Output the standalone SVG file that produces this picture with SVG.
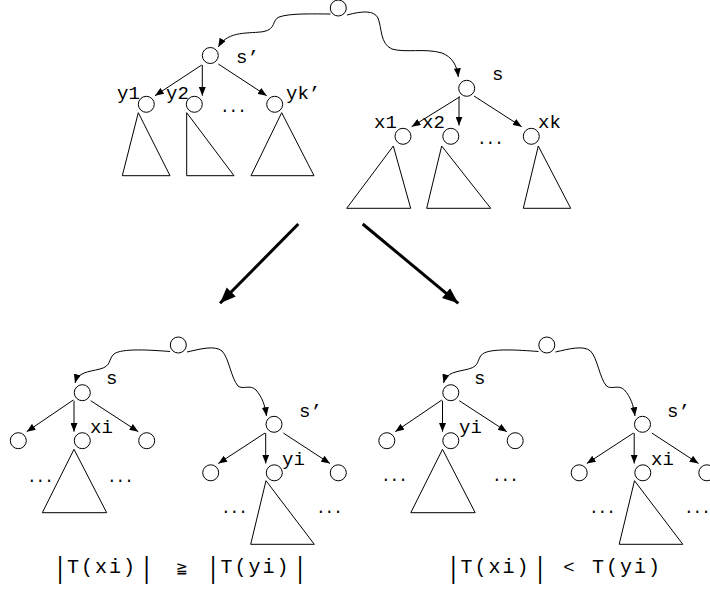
<svg xmlns="http://www.w3.org/2000/svg" width="710" height="590" viewBox="0 0 710 590">
<style>
.n{fill:#fff;stroke:#000;stroke-width:1}
.t{fill:none;stroke:#000;stroke-width:1;stroke-linejoin:miter}
.e{fill:none;stroke:#000;stroke-width:1}
.b{fill:none;stroke:#000;stroke-width:3}
.l{font-family:"Liberation Mono","Courier New",monospace;font-size:19px;fill:#000}
.d{font-family:"Liberation Mono","Courier New",monospace;font-size:16px;letter-spacing:-1px;fill:#000}
.f{font-family:"Liberation Mono","Courier New",monospace;font-size:20px;letter-spacing:2px;fill:#000}
.bar{font-family:"Liberation Mono","Courier New",monospace;font-size:22px;fill:#000}
</style>
<defs>
<marker id="ah" viewBox="0 0 10 8" refX="10" refY="4" markerWidth="9" markerHeight="7" markerUnits="userSpaceOnUse" orient="auto"><path d="M0,0 L10,4 L0,8 z" fill="#000"/></marker>
<marker id="bh" viewBox="0 0 10 8" refX="10" refY="4" markerWidth="16" markerHeight="13" markerUnits="userSpaceOnUse" orient="auto"><path d="M0,0 L10,4 L0,8 z" fill="#000"/></marker>
</defs>

<g id="connectors">
<path class="e" marker-end="url(#ah)" d="M330.5,14 C315,14 290,13 279,17 C272,20 276,29 264,31.5 C250,34 228,30 218.3,47"/>
<path class="e" marker-end="url(#ah)" d="M347,15 C362,11 374,10 378,18 C382,28 380,44 392,49 C405,53 425,48 442,53 C452,57 457,65 458.3,77"/>
<line class="e" marker-end="url(#ah)" x1="201.7" y1="65" x2="155" y2="95.7"/>
<line class="e" marker-end="url(#ah)" x1="202.3" y1="65" x2="202.3" y2="95.7"/>
<line class="e" marker-end="url(#ah)" x1="218.3" y1="64" x2="266.7" y2="95.7"/>
<line class="e" marker-end="url(#ah)" x1="460" y1="96.7" x2="411.7" y2="126.7"/>
<line class="e" marker-end="url(#ah)" x1="459" y1="96.7" x2="459" y2="125.5"/>
<line class="e" marker-end="url(#ah)" x1="474" y1="96" x2="521.7" y2="126.7"/>
<line class="b" marker-end="url(#bh)" x1="298.3" y1="224" x2="220" y2="303.3"/>
<line class="b" marker-end="url(#bh)" x1="362.7" y1="224" x2="458.3" y2="303.3"/>
<path class="e" marker-end="url(#ah)" d="M170,351.5 C150,350 122,348 114,354 C108,359 112,366 100,369 C88,372 78,372 75,383"/>
<path class="e" marker-end="url(#ah)" d="M187,352 C200,349 215,345 222,351 C229,358 231,378 238,386 C243,390 250,384 256,390 C262,397 265,405 266.5,416"/>
<line class="e" marker-end="url(#ah)" x1="73.3" y1="400" x2="26.7" y2="431.7"/>
<line class="e" marker-end="url(#ah)" x1="74" y1="400.7" x2="74" y2="431.7"/>
<line class="e" marker-end="url(#ah)" x1="90.7" y1="400.7" x2="138.3" y2="431.7"/>
<line class="e" marker-end="url(#ah)" x1="265" y1="433" x2="218.3" y2="463.5"/>
<line class="e" marker-end="url(#ah)" x1="265.7" y1="433" x2="265.7" y2="463.5"/>
<line class="e" marker-end="url(#ah)" x1="283.3" y1="433" x2="330" y2="463.5"/>
<g transform="translate(368.5,0)">
<path class="e" marker-end="url(#ah)" d="M170,351.5 C150,350 122,348 114,354 C108,359 112,366 100,369 C88,372 78,372 75,383"/>
<path class="e" marker-end="url(#ah)" d="M187,352 C200,349 215,345 222,351 C229,358 231,378 238,386 C243,390 250,384 256,390 C262,397 265,405 266.5,416"/>
<line class="e" marker-end="url(#ah)" x1="73.3" y1="400" x2="26.7" y2="431.7"/>
<line class="e" marker-end="url(#ah)" x1="74" y1="400.7" x2="74" y2="431.7"/>
<line class="e" marker-end="url(#ah)" x1="90.7" y1="400.7" x2="138.3" y2="431.7"/>
<line class="e" marker-end="url(#ah)" x1="265" y1="433" x2="218.3" y2="463.5"/>
<line class="e" marker-end="url(#ah)" x1="265.7" y1="433" x2="265.7" y2="463.5"/>
<line class="e" marker-end="url(#ah)" x1="283.3" y1="433" x2="330" y2="463.5"/>
</g>
</g>

<g id="top-root"><circle class="n" cx="338.3" cy="8" r="8"/></g>
<g id="top-sprime"><circle class="n" cx="210.3" cy="55.5" r="8"/><text class="l" x="236" y="63">s’</text></g>
<g id="top-y1"><circle class="n" cx="146.3" cy="104.3" r="8"/><text class="l" x="117" y="99">y1</text><path class="t" d="M138.3,112.7 L122.3,175.7 L170,175.7 Z"/></g>
<g id="top-y2"><circle class="n" cx="194.3" cy="104.3" r="8"/><text class="l" x="166" y="99">y2</text><path class="t" d="M186.7,112.7 L186.7,175.7 L234,175.7 Z"/></g>
<g id="top-ydots"><text class="d" x="220" y="112">...</text></g>
<g id="top-yk"><circle class="n" cx="274.7" cy="104.3" r="8"/><text class="l" x="286" y="99">yk’</text><path class="t" d="M281.7,112.7 L251,175.7 L314,175.7 Z"/></g>
<g id="top-s"><circle class="n" cx="466.7" cy="88.3" r="8"/><text class="l" x="492" y="80">s</text></g>
<g id="top-x1"><circle class="n" cx="403" cy="136.3" r="8"/><text class="l" x="374" y="128">x1</text><path class="t" d="M393.3,146 L346.7,208.3 L410.7,208.3 Z"/></g>
<g id="top-x2"><circle class="n" cx="450.8" cy="136.3" r="8"/><text class="l" x="422" y="128">x2</text><path class="t" d="M441.7,146 L426.7,208.3 L490.7,208.3 Z"/></g>
<g id="top-xdots"><text class="d" x="477" y="144">...</text></g>
<g id="top-xk"><circle class="n" cx="531.3" cy="136.3" r="8"/><text class="l" x="538" y="128">xk</text><path class="t" d="M538.3,146 L523.3,208.3 L570.7,208.3 Z"/></g>

<g id="bl-root"><circle class="n" cx="178.3" cy="345" r="8"/></g>
<g id="bl-s"><circle class="n" cx="82.3" cy="392.7" r="8"/><text class="l" x="106" y="384">s</text></g>
<g id="bl-c1"><circle class="n" cx="18.3" cy="440.7" r="8"/></g>
<g id="bl-xi"><circle class="n" cx="82.3" cy="440.7" r="8"/><text class="l" x="90" y="433">xi</text><path class="t" d="M74,449.3 L42.3,512.7 L106.7,512.7 Z"/></g>
<g id="bl-c3"><circle class="n" cx="146.7" cy="440.7" r="8"/></g>
<g id="bl-dots1"><text class="d" x="27" y="482">...</text><text class="d" x="107" y="482">...</text></g>
<g id="bl-sprime"><circle class="n" cx="274" cy="424.3" r="8"/><text class="l" x="299" y="417">s’</text></g>
<g id="bl-d1"><circle class="n" cx="210.7" cy="472.8" r="8"/></g>
<g id="bl-yi"><circle class="n" cx="274.3" cy="472.8" r="8"/><text class="l" x="282" y="465">yi</text><path class="t" d="M266,480.7 L250.7,544.3 L314.3,544.3 Z"/></g>
<g id="bl-d3"><circle class="n" cx="338.3" cy="472.8" r="8"/></g>
<g id="bl-dots2"><text class="d" x="221" y="513">...</text><text class="d" x="316" y="513">...</text></g>

<g id="br-root"><circle class="n" cx="546.8" cy="345" r="8"/></g>
<g id="br-s"><circle class="n" cx="450.8" cy="392.7" r="8"/><text class="l" x="474" y="384">s</text></g>
<g id="br-c1"><circle class="n" cx="386.8" cy="440.7" r="8"/></g>
<g id="br-yi"><circle class="n" cx="450.8" cy="440.7" r="8"/><text class="l" x="459" y="433">yi</text><path class="t" d="M442.5,449.3 L410.8,512.7 L475.2,512.7 Z"/></g>
<g id="br-c3"><circle class="n" cx="515.2" cy="440.7" r="8"/></g>
<g id="br-dots1"><text class="d" x="381" y="481">...</text><text class="d" x="492" y="481">...</text></g>
<g id="br-sprime"><circle class="n" cx="642.5" cy="424.3" r="8"/><text class="l" x="667" y="417">s’</text></g>
<g id="br-d1"><circle class="n" cx="579.2" cy="472.8" r="8"/></g>
<g id="br-xi"><circle class="n" cx="642.8" cy="472.8" r="8"/><text class="l" x="651" y="465">xi</text><path class="t" d="M634.5,480.7 L619.2,544.3 L682.8,544.3 Z"/></g>
<g id="br-d3"><circle class="n" cx="706.8" cy="472.8" r="8"/></g>
<g id="br-dots2"><text class="d" x="589" y="513">...</text><text class="d" x="684" y="513">...</text></g>

<g id="formula-left">
<text class="bar" transform="translate(60,578) scale(1,1.3)" text-anchor="middle">|</text>
<text class="f" x="67" y="573">T(xi)</text>
<text class="bar" transform="translate(146.7,578) scale(1,1.3)" text-anchor="middle">|</text>
<text class="l" x="181.5" y="573" text-anchor="middle" style="font-size:17px">≧</text>
<text class="bar" transform="translate(213,578) scale(1,1.3)" text-anchor="middle">|</text>
<text class="f" x="220.5" y="573">T(yi)</text>
<text class="bar" transform="translate(300,578) scale(1,1.3)" text-anchor="middle">|</text>
</g>
<g id="formula-right">
<text class="bar" transform="translate(453.3,578) scale(1,1.3)" text-anchor="middle">|</text>
<text class="f" x="460.5" y="573">T(xi)</text>
<text class="bar" transform="translate(540,578) scale(1,1.3)" text-anchor="middle">|</text>
<text class="l" x="569" y="573" text-anchor="middle">&lt;</text>
<text class="f" x="592" y="573">T(yi)</text>
</g>
</svg>
